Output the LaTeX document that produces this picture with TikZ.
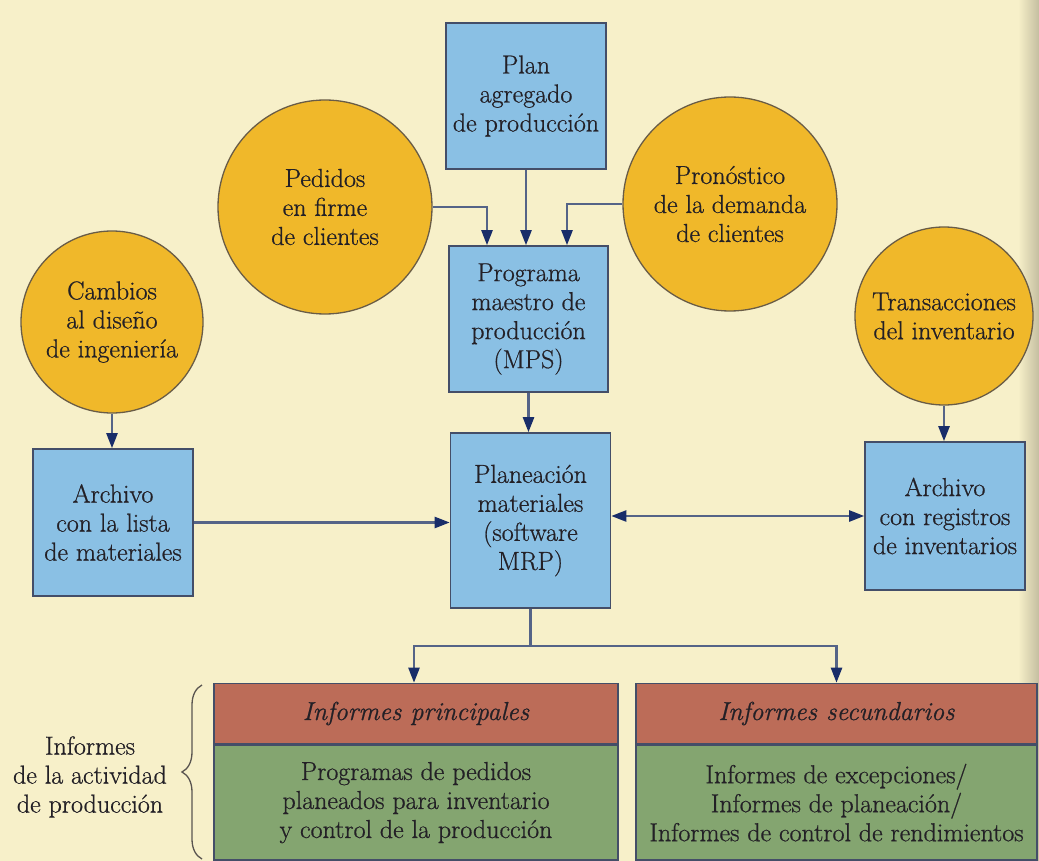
\documentclass[tikz,border=0pt]{standalone}
\usepackage{fontspec}
\setmainfont{Latin Modern Roman}[FakeBold=0.7]
\usetikzlibrary{arrows.meta,decorations.pathreplacing,calc}

\definecolor{bgcream}{RGB}{247,240,201}
\definecolor{edgegray}{RGB}{196,190,160}
\definecolor{boxblue}{RGB}{138,192,228}
\definecolor{boxline}{RGB}{68,78,104}
\definecolor{circyellow}{RGB}{240,184,42}
\definecolor{circline}{RGB}{105,92,70}
\definecolor{redhead}{RGB}{188,108,88}
\definecolor{greenbody}{RGB}{132,165,112}
\definecolor{connline}{RGB}{85,100,135}
\definecolor{tipnavy}{RGB}{25,45,105}
\definecolor{textdark}{RGB}{35,32,38}
\definecolor{bracecol}{RGB}{90,85,80}

\begin{document}
\begin{tikzpicture}[x=1pt,y=-1pt,
  >={Triangle[length=15pt,width=11pt,color=tipnavy]},
  txt/.style={align=center,text=textdark,font=\rmfamily\fontsize{26}{29}\selectfont},
  bluebox/.style={txt,draw=boxline,line width=1.6pt,fill=boxblue,inner sep=0pt},
  bubble/.style={txt,circle,draw=circline,line width=1.3pt,fill=circyellow,inner sep=0pt},
  headbox/.style={txt,draw=boxline,line width=1.6pt,fill=redhead,inner sep=0pt,
    minimum height=60pt,font=\rmfamily\fontsize{26}{29}\selectfont\itshape},
  bodybox/.style={txt,draw=boxline,line width=1.6pt,fill=greenbody,inner sep=0pt,
    minimum height=115pt},
  conn/.style={draw=connline,line width=2.4pt,->},
  dconn/.style={draw=connline,line width=2.4pt,<->}]

% page background
\fill[bgcream] (0,0) rectangle (1039,861);
\useasboundingbox (0,0) rectangle (1039,861);
\shade[left color=bgcream,right color=edgegray] (1018,0) rectangle (1039,861);

% planning inputs
\node[bluebox,minimum width=160pt,minimum height=146pt] (plan) at (526,96)
  {Plan\\agregado\\de producción};
\node[bubble,minimum size=214pt] (pedidos) at (325,207)
  {Pedidos\\en firme\\de clientes};
\node[bubble,minimum size=214pt] (pron) at (730,204)
  {Pronóstico\\de la demanda\\de clientes};
\node[bubble,minimum size=182pt] (cambios) at (112,322)
  {Cambios\\al diseño\\de ingeniería};
\node[bubble,minimum size=178pt] (trans) at (944,316)
  {Transacciones\\del inventario};

% core system
\node[bluebox,minimum width=159pt,minimum height=146pt] (prog) at (528.5,319)
  {Programa\\maestro de\\producción\\(MPS)};
\node[bluebox,minimum width=160pt,minimum height=175pt] (mrp) at (530.5,520.5)
  {Planeación\\materiales\\(software\\MRP)};
\node[bluebox,minimum width=160pt,minimum height=147pt] (arch1) at (113,522.5)
  {Archivo\\con la lista\\de materiales};
\node[bluebox,minimum width=160pt,minimum height=148pt] (arch2) at (945,516)
  {Archivo\\con registros\\de inventarios};

% output reports
\node[headbox,minimum width=404pt] (rp1) at (416,713.5) {Informes principales};
\node[bodybox,minimum width=404pt,anchor=north] (rb1) at (rp1.south)
  {Programas de pedidos\\planeados para inventario\\y control de la producción};
\node[headbox,minimum width=401pt] (rp2) at (836.5,713.5) {Informes secundarios};
\node[bodybox,minimum width=401pt,anchor=north] (rb2) at (rp2.south)
  {Informes de excepciones/\\Informes de planeación/\\Informes de control de rendimientos};

\node[txt] (act) at (90,777) {Informes\\de la actividad\\de producción};
\draw[decorate,decoration={brace,amplitude=20pt},draw=bracecol,line width=1.3pt]
  (202,859) -- (202,685);

% connectors
\draw[conn] (plan.south) -- (plan.south |- prog.north);
\draw[conn] (pedidos.east) -| ([xshift=-41.5pt]prog.north);
\draw[conn] (pron.west) -| ([xshift=38.5pt]prog.north);
\draw[conn] (prog.south) -- (prog.south |- mrp.north);
\draw[conn] (cambios.south) -- (cambios.south |- arch1.north);
\draw[conn] (arch1.east) -- (arch1.east -| mrp.west);
\draw[dconn] (arch2.west -| mrp.east) -- (arch2.west);
\draw[conn] (trans.south) -- (trans.south |- arch2.north);
\coordinate (split) at ($(mrp.south)+(0,37)$);
\draw[draw=connline,line width=2.4pt] (mrp.south) -- (split);
\draw[conn] (split) -| ([xshift=-2pt]rp1.north);
\draw[conn] (split) -| (rp2.north);
\end{tikzpicture}
\end{document}
